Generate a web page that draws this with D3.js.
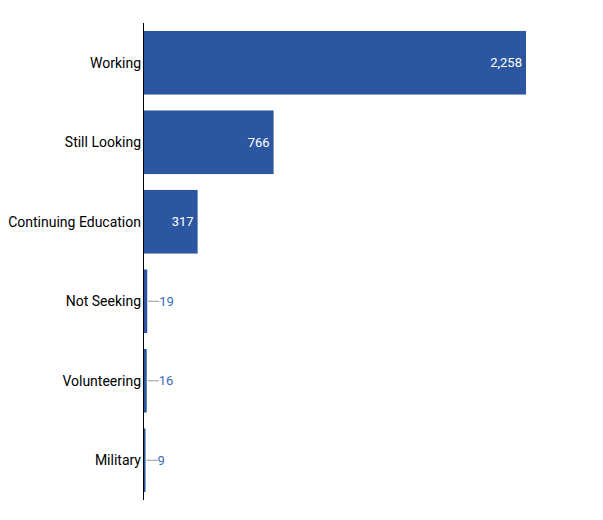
<!DOCTYPE html>
<html><head><meta charset="utf-8">
<script src="https://cdn.jsdelivr.net/npm/d3@7"></script>
<style>body{margin:0;background:#fff;font-family:Roboto,sans-serif;}</style>
</head><body><svg id="c" width="603" height="520"></svg>
<script>
const categories = ["Working","Still Looking","Continuing Education","Not Seeking","Volunteering","Military"];
const values = [2258, 766, 317, 19, 16, 9];

const svg = d3.select("#c");
const plotLeft = 144, plotTop = 23, plotBottom = 500;
const x = d3.scaleLinear().domain([0, 2258]).range([plotLeft, 526]);
const y = d3.scaleBand().domain(categories).range([plotTop, plotBottom]).paddingInner(0.2).paddingOuter(0.1);
const color = "#2c57a0";

svg.selectAll("rect.bar").data(values).join("rect").attr("class","bar")
  .attr("x", x(0)).attr("y",(d,i)=>y(categories[i]))
  .attr("width", d=>x(d)-x(0)).attr("height", y.bandwidth()).attr("fill", color);

svg.selectAll("text.cat").data(categories).join("text").attr("class","cat")
  .attr("x", plotLeft-3).attr("y", d=>y(d)+y.bandwidth()/2).attr("dy","0.35em")
  .attr("text-anchor","end").attr("font-size",14).attr("fill","#000").text(d=>d);

const fmt = d3.format(",");
values.forEach((v,i)=>{
  const cy = y(categories[i]) + y.bandwidth()/2;
  const w = x(v)-x(0);
  if (w > 40) {
    svg.append("text").attr("x", x(v)-4).attr("y", cy).attr("dy","0.35em")
      .attr("text-anchor","end").attr("font-size",13).attr("fill","#fff").text(fmt(v));
  } else {
    svg.append("line").attr("x1", x(v)+1).attr("x2", x(v)+12).attr("y1", cy).attr("y2", cy)
      .attr("stroke","#999").attr("stroke-width",1);
    svg.append("text").attr("x", x(v)+12).attr("y", cy).attr("dy","0.35em")
      .attr("font-size",13).attr("fill","#3a67b8").text(fmt(v));
  }
});

svg.append("line").attr("x1", plotLeft-0.5).attr("x2", plotLeft-0.5).attr("y1", plotTop).attr("y2", plotBottom)
  .attr("stroke","#000").attr("stroke-width",1);
</script></body></html>
